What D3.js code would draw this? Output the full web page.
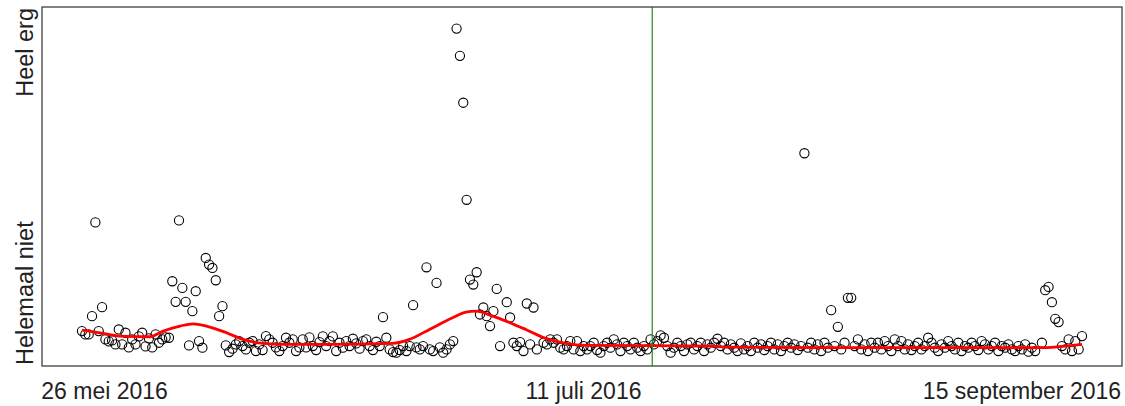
<!DOCTYPE html>
<html>
<head>
<meta charset="utf-8">
<script src="https://cdn.jsdelivr.net/npm/d3@7"></script>
<style>
  body { margin: 0; background: #fff; }
  text { font-family: "Liberation Sans", Arial, sans-serif; fill: #222; }
</style>
</head>
<body>
<svg id="chart" width="1125" height="406"></svg>
<script>
// scores per measurement (0 = helemaal niet, 100 = heel erg), null = missing
var scores = [
  6.5, 5.5, 5.5, 11, 39.2, 6.5, 13.7, 4, 3.4, 3.7,
  2.5, 7, 2.5, 6, 1.6, 4, 2.5, 4.9, 6, 1.9,
  4.3, 1.6, 5.5, 3, 4, 4.6, 4.5, 21.5, 15.3, 39.8,
  19.5, 15.3, 2.2, 12.5, 18.5, 3.5, 1.5, 28.5, 26.5, 25.5,
  21.8, 11, 14, 2.2, 0.2, 1.2, 2.5, 3.5, 2, 1,
  3, 3.5, 0.5, 2.5, 0.8, 5, 4, 3, 1.6, 0.5,
  2, 4.5, 3, 4, 0.5, 1.6, 4, 1.6, 4.6, 2,
  0.8, 3.2, 4.9, 2, 3.5, 4.9, 0.5, 3, 1.5, 3.5,
  2, 4.2, 2.8, 1.2, 3.5, 4, 2, 0.8, 3.3, 2,
  10.7, 4.5, 1, 0.2, 0, 0.8, 2, 0.5, 2, 14.3,
  1.6, 1, 2, 25.7, 1, 0.5, 21, 1.6, 0, 1,
  2.5, 3.5, 97.5, 89.3, 75.2, 46, 22, 20.5, 24.2, 11.5,
  13.6, 11, 8, 12.5, 19.2, 2, null, 15.2, 10.6, 3,
  2, 3.2, 0.5, 14.8, 2.5, 13.6, 1, null, 3, 2.5,
  4, 3, 4, 1.5, 1, 2, 3.5, 1, 3.5, 0.5,
  2, 1, 2, 3, 0.8, 0, 2, 3, 1.5, 4,
  2.5, 0.5, 3, 2, 1, 3, 1.5, 0.5, 2, 1,
  4, 2.5, 3.5, 5.2, 4.5, 2, 0, 1.5, 3, 2,
  0.5, 2.5, 3, 1, 2, 3, 0.5, 2.5, 1.5, 3,
  4.2, 2, 3, 1, 2.5, 1.5, 0.5, 2.8, 1, 2,
  0.5, 3, 1.5, 2.5, 0.8, 2, 3, 1, 2.5, 0.5,
  2, 3, 1.5, 2.5, 0.8, 2, 60, 1.5, 3, 1,
  2.5, 0.5, 3, 1.5, 12.8, 2, 7.8, 1, 3, 16.5,
  16.5, 2, 4, 1, 2.5, 0.5, 3, 1.5, 3, 1,
  3.5, 2, 0.5, 4, 2, 3.5, 1, 2.5, 0.8, 2,
  3, 1, 2, 4.5, 3, 1.5, 0.5, 2.5, 1.5, 3.5,
  2, 1, 3, 0.5, 2, 1.5, 3, 2, 0.8, 3.5,
  2.5, 1, 2, 3, 0.5, 2, 1.5, 2.5, 1, 0.5,
  2, 1, 2.5, 0.3, 1.5, 0.5, null, 3, 18.8, 19.8,
  15.2, 10.2, 9.2, 2, 1, 4, 0.5, 3.5, 1, 5
];

// smoothed trend (measurement index, score)
var smoothIdx = [0, 5.4, 11.3, 20.3, 24.3, 29.3, 33.2, 37.2, 43.2, 48.1, 54.1, 61.1, 73, 92.9, 97.9,
  103.9, 110.8, 114.8, 117.8, 122.8, 126.8, 132.7, 138.7, 144.7, 150.7, 188.4, 192.5, 228.3, 286, 292, 299];
var smoothVal = [6.8, 6.0, 5.0, 4.8, 6.5, 8.0, 8.7, 8.0, 6.0, 4.0, 2.8, 2.5, 2.5, 2.8, 4.0,
  7.0, 10.5, 12.2, 12.5, 11.0, 9.5, 7.0, 4.3, 2.8, 2.2, 2.0, 1.7, 1.5, 1.5, 1.8, 2.5];

// date labels on the x axis, at measurement index
var tickIdx = [6.6, 149.8, 280.9];
var tickLabels = ["26 mei 2016", "11 juli 2016", "15 september 2016"];

// start of the second phase
var phaseIdx = 170.5;

var yLabels = ["Helemaal niet", "Heel erg"];

var plotL = 42, plotR = 1122, plotT = 7, plotB = 366;
var svg = d3.select("#chart");

var n = scores.length - 1;
var x = d3.scaleLinear()
  .domain([-0.04 * n, 1.04 * n])
  .range([plotL, plotR]);
var y = d3.scaleLinear()
  .domain([-4, 104])
  .range([plotB, plotT]);

var pts = scores.map(function(v, i) { return { i: i, v: v }; })
  .filter(function(d) { return d.v !== null; });

svg.append("g")
  .selectAll("circle")
  .data(pts)
  .enter()
  .append("circle")
  .attr("cx", function(d) { return x(d.i); })
  .attr("cy", function(d) { return y(d.v); })
  .attr("r", 4.6)
  .attr("fill", "none")
  .attr("stroke", "#000")
  .attr("stroke-width", 1.1);

var line = d3.line()
  .x(function(d) { return x(d[0]); })
  .y(function(d) { return y(d[1]); })
  .curve(d3.curveMonotoneX);

svg.append("path")
  .datum(d3.zip(smoothIdx, smoothVal))
  .attr("d", line)
  .attr("fill", "none")
  .attr("stroke", "#ff0000")
  .attr("stroke-width", 2.8);

svg.append("line")
  .attr("x1", x(phaseIdx)).attr("x2", x(phaseIdx))
  .attr("y1", plotT).attr("y2", plotB)
  .attr("stroke", "#228b22")
  .attr("stroke-width", 1.2);

// frame
svg.append("rect")
  .attr("x", plotL).attr("y", plotT)
  .attr("width", plotR - plotL).attr("height", plotB - plotT)
  .attr("fill", "none")
  .attr("stroke", "#404040")
  .attr("stroke-width", 1.3);

// x axis, labels only
var xAxis = d3.axisBottom(x)
  .tickValues(tickIdx)
  .tickFormat(function(d, i) { return tickLabels[i]; })
  .tickSize(0)
  .tickPadding(0);

var gx = svg.append("g")
  .attr("transform", "translate(0," + plotB + ")")
  .call(xAxis);
gx.select(".domain").remove();
gx.selectAll("text")
  .attr("dy", null)
  .attr("y", 33)
  .attr("fill", "#222")
  .style("font-family", '"Liberation Sans", Arial, sans-serif')
  .style("font-size", "23px");

// y labels, rotated
svg.append("text")
  .attr("transform", "translate(33," + (plotB - 1) + ") rotate(-90)")
  .attr("text-anchor", "start")
  .style("font-size", "23.5px")
  .text(yLabels[0]);

svg.append("text")
  .attr("transform", "translate(33," + (plotT + 1) + ") rotate(-90)")
  .attr("text-anchor", "end")
  .style("font-size", "23.5px")
  .text(yLabels[1]);
</script>
</body>
</html>
